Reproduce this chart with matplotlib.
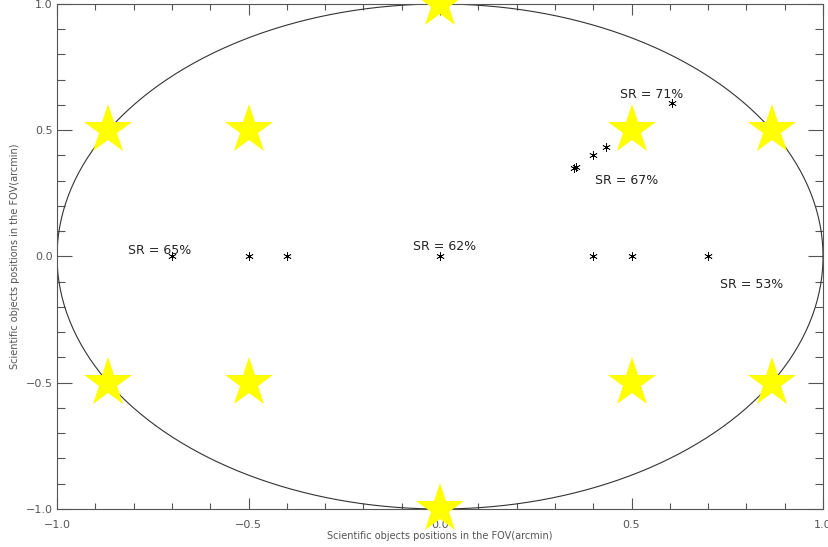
import numpy as np
import matplotlib.pyplot as plt
from matplotlib.ticker import MultipleLocator

# guide stars (yellow)
star_x = [-0.866, -0.5, 0.5, 0.866, -0.866, -0.5, 0.5, 0.866, 0.0, 0.0]
star_y = [0.5, 0.5, 0.5, 0.5, -0.5, -0.5, -0.5, -0.5, 1.0, -1.0]

# scientific object positions
obj_x = [-0.7, -0.5, -0.4, 0.0, 0.4, 0.5, 0.7, 0.35, 0.354, 0.4, 0.433, 0.606]
obj_y = [0.0, 0.0, 0.0, 0.0, 0.0, 0.0, 0.0, 0.35, 0.354, 0.4, 0.433, 0.606]

# strehl ratio annotations
sr_labels = ["SR = 65%", "SR = 62%", "SR = 71%", "SR = 67%", "SR = 53%"]
sr_x = [-0.815, -0.07, 0.47, 0.405, 0.73]
sr_y = [0.025, 0.04, 0.64, 0.30, -0.11]

axis_col = '#555555'

fig = plt.figure(figsize=(8.29, 5.47), dpi=100)
ax = fig.add_axes([0.0688, 0.0695, 0.924, 0.9232])

# field of view circle
t = np.linspace(0, 2 * np.pi, 400)
ax.plot(np.cos(t), np.sin(t), color='#333333', linewidth=0.8)

ax.plot(star_x, star_y, linestyle='none', marker='*', markersize=37,
        color='#ffff00', markeredgewidth=0, clip_on=False, zorder=3)
ax.plot(obj_x, obj_y, linestyle='none', marker=(6, 2, 0), markersize=6,
        color='black', markeredgewidth=0.5, zorder=4)

for lab, x, y in zip(sr_labels, sr_x, sr_y):
    ax.text(x, y, lab, fontsize=9, color='#222222', va='center', ha='left', zorder=5)

ax.set_xlim(-1, 1)
ax.set_ylim(-1, 1)
ax.xaxis.set_major_locator(MultipleLocator(0.5))
ax.xaxis.set_minor_locator(MultipleLocator(0.1))
ax.yaxis.set_major_locator(MultipleLocator(0.5))
ax.yaxis.set_minor_locator(MultipleLocator(0.1))
ax.tick_params(axis='both', which='both', direction='in', top=True, right=True,
               colors=axis_col, labelsize=8, width=0.8)
ax.tick_params(axis='x', which='major', length=8, pad=8)
ax.tick_params(axis='x', which='minor', length=4.5)
ax.tick_params(axis='y', which='major', length=11, pad=3)
ax.tick_params(axis='y', which='minor', length=6)
for s in ax.spines.values():
    s.set_color(axis_col)
    s.set_linewidth(0.8)

ax.set_xlabel('Scientific objects positions in the FOV(arcmin)', fontsize=7, color=axis_col, labelpad=1)
ax.set_ylabel('Scientific objects positions in the FOV(arcmin)', fontsize=7, color=axis_col, labelpad=4)

fig.savefig('out.png', dpi=100)
